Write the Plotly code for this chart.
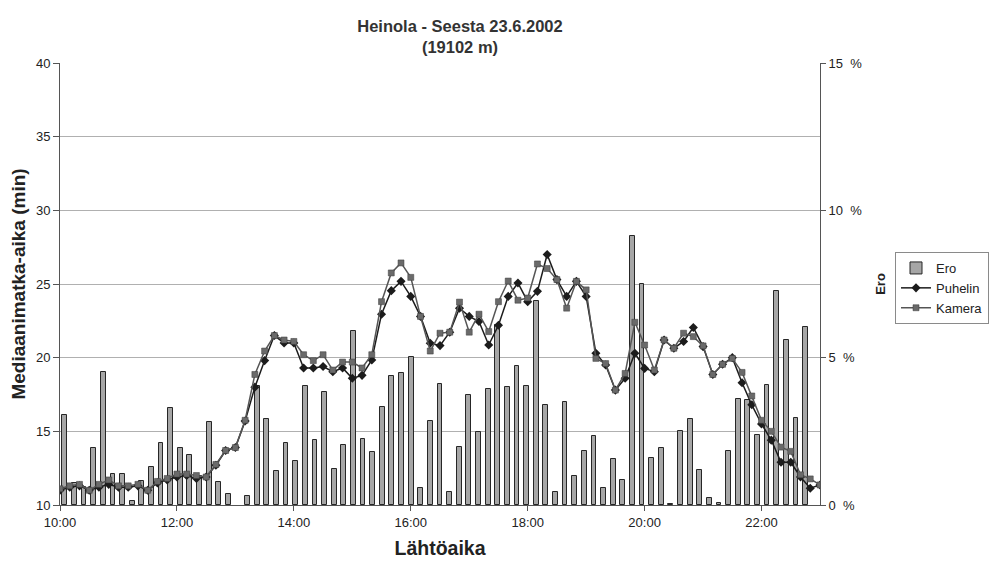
import plotly.graph_objects as go

# 10-minute departure slots 10:00 ... 23:00 (79 categories)
times = [f"2002-06-23 {10 + i // 6:02d}:{(i % 6) * 10:02d}" for i in range(79)]

ero = [3.05, 0.75, 0.6, 1.95, 4.5, 1.05, 1.05, 0.15, 0.8, 1.3,
       2.1, 3.3, 1.95, 1.7, 1.0, 2.82, 0.77, 0.37, None, 0.32,
       4.05, 2.93, 1.17, 2.11, 1.51, 4.03, 2.19, 3.84, 1.23, 2.02,
       5.89, 2.25, 1.8, 3.33, 4.39, 4.47, 5.03, 0.57, 2.84, 4.1,
       0.45, 1.97, 3.73, 2.48, 3.93, 6.11, 4.01, 4.73, 4.05, 6.91,
       3.41, 0.43, 3.5, 0.98, 1.82, 2.34, 0.58, 1.57, 0.86, 9.12,
       7.5, 1.61, 1.94, 0.03, 2.51, 2.91, 1.2, 0.23, 0.07, 1.82,
       3.61, 3.56, 2.36, 4.07, 7.27, 5.6, 2.95, 6.03, None]

puhelin = [11.0, 11.2, 11.3, 11.0, 11.2, 11.4, 11.2, 11.2, 11.3, 11.0,
           11.5, 11.7, 11.9, 12.0, 11.8, 11.9, 12.7, 13.7, 13.9, 15.7,
           18.0, 19.8, 21.5, 21.0, 21.0, 19.3, 19.3, 19.4, 19.05, 19.3,
           18.6, 18.8, 19.84, 22.95, 24.55, 25.18, 24.16, 22.8, 20.98, 20.82,
           21.73, 23.36, 22.8, 22.45, 20.86, 22.2, 24.16, 25.07, 23.8, 24.5,
           27.0, 25.3, 24.16, 25.18, 24.16, 20.3, 19.5, 17.8, 18.6, 20.3,
           19.27, 19.05, 21.2, 20.64, 21.1, 22.05, 20.75, 18.86, 19.55, 20.0,
           18.3, 16.8, 15.5, 14.4, 12.9, 12.9, 11.9, 11.14, 11.36]

kamera = [11.1, 11.3, 11.4, 11.0, 11.4, 11.7, 11.3, 11.3, 11.4, 11.0,
          11.6, 11.8, 12.1, 12.1, 12.0, 11.9, 12.75, 13.7, 13.9, 15.75,
          18.86, 20.45, 21.5, 21.2, 21.1, 20.2, 19.8, 20.2, 19.16, 19.7,
          19.7, 19.3, 20.2, 23.8, 25.75, 26.43, 25.45, 22.8, 20.45, 21.66,
          21.73, 23.77, 21.73, 22.95, 21.77, 23.8, 25.2, 23.9, 24.05, 26.36,
          26.05, 25.3, 23.36, 25.18, 24.6, 19.95, 19.6, 17.8, 18.93, 22.4,
          20.86, 19.16, 21.2, 20.64, 21.66, 21.43, 20.8, 18.86, 19.55, 19.95,
          19.0, 17.4, 15.75, 15.0, 13.93, 13.64, 12.05, 11.77, 11.36]

pct_ticks = [0, 5, 10, 15]
pct_labels = ["0\u00a0\u00a0%", "5\u00a0\u00a0%", "10\u00a0\u00a0%", "15\u00a0\u00a0%"]

title_text = "Heinola - Seesta 23.6.2002<br>(19102 m)"
x_title = "Lähtöaika"
y_left_title = "Mediaanimatka-aika (min)"
y_right_title = "Ero"

FONT = "Liberation Sans, Arial, sans-serif"
TXT = "#222222"

# page body has an 8px default margin: figure is sized/positioned to compensate
W, H = 993, 555

fig = go.Figure()

fig.add_trace(go.Bar(
    x=times, y=ero, name="Ero", xaxis="x", yaxis="y",
    width=300000,
    marker=dict(color="#a6a6a6", line=dict(color="#262626", width=1)),
))
fig.add_trace(go.Scatter(
    x=times, y=puhelin, name="Puhelin", xaxis="x2", yaxis="y2",
    mode="lines+markers",
    line=dict(color="#1c1c1c", width=1.5),
    marker=dict(symbol="diamond", size=7, color="#1c1c1c"),
))
fig.add_trace(go.Scatter(
    x=times, y=kamera, name="Kamera", xaxis="x2", yaxis="y2",
    mode="lines+markers",
    line=dict(color="#555555", width=1.5),
    marker=dict(symbol="square", size=6, color="#6a6a6a",
                line=dict(color="#3a3a3a", width=0.5)),
))

fig.update_layout(
    width=W, height=H,
    margin=dict(l=52, r=181, t=55, b=58, autoexpand=False),
    paper_bgcolor="white", plot_bgcolor="white",
    font=dict(family=FONT, size=13, color=TXT),
    title=dict(text=title_text, x=452 / W, xanchor="center",
               y=1 - 24 / H, yanchor="middle",
               font=dict(family=FONT, size=16.5, color="#333333", weight="bold")),
    showlegend=True,
    legend=dict(x=1.0987, y=0.5724, xanchor="left", yanchor="top",
                bordercolor="#8a8a8a", borderwidth=1, bgcolor="white",
                font=dict(family=FONT, size=13, color=TXT),
                tracegroupgap=0, itemwidth=30),
    bargap=0,
    xaxis=dict(
        type="date", range=["2002-06-23 09:55", "2002-06-23 23:05"],
        visible=False, fixedrange=True, automargin=False,
    ),
    xaxis2=dict(
        type="date", overlaying="x", side="bottom", anchor="y2",
        range=["2002-06-23 10:00", "2002-06-23 23:00"], automargin=False,
        tick0="2002-06-23 10:00", dtick=7200000, tickformat="%H:%M",
        showgrid=False, showline=True, linecolor="#555555", linewidth=1,
        ticks="outside", ticklen=5, tickcolor="#555555",
        tickfont=dict(family=FONT, size=13, color=TXT),
        title=dict(text=x_title, standoff=12,
                   font=dict(family=FONT, size=19.5, color=TXT, weight="bold")),
    ),
    yaxis=dict(
        side="right", range=[0, 15], tickvals=pct_ticks, ticktext=pct_labels,
        automargin=False,
        showgrid=False, showline=True, linecolor="#555555", linewidth=1,
        ticks="outside", ticklen=5, tickcolor="#555555",
        tickfont=dict(family=FONT, size=13, color=TXT),
        title=dict(text=y_right_title, standoff=14,
                   font=dict(family=FONT, size=13, color=TXT, weight="bold")),
    ),
    yaxis2=dict(
        overlaying="y", side="left", anchor="x2", range=[10, 40], dtick=5,
        automargin=False,
        showgrid=True, gridcolor="#b0b0b0", gridwidth=1,
        showline=True, linecolor="#555555", linewidth=1,
        ticks="outside", ticklen=6, tickcolor="#555555",
        tickfont=dict(family=FONT, size=13, color=TXT),
        title=dict(text=y_left_title, standoff=5,
                   font=dict(family=FONT, size=19, color=TXT, weight="bold")),
    ),
)

fig.write_html("out.html")
